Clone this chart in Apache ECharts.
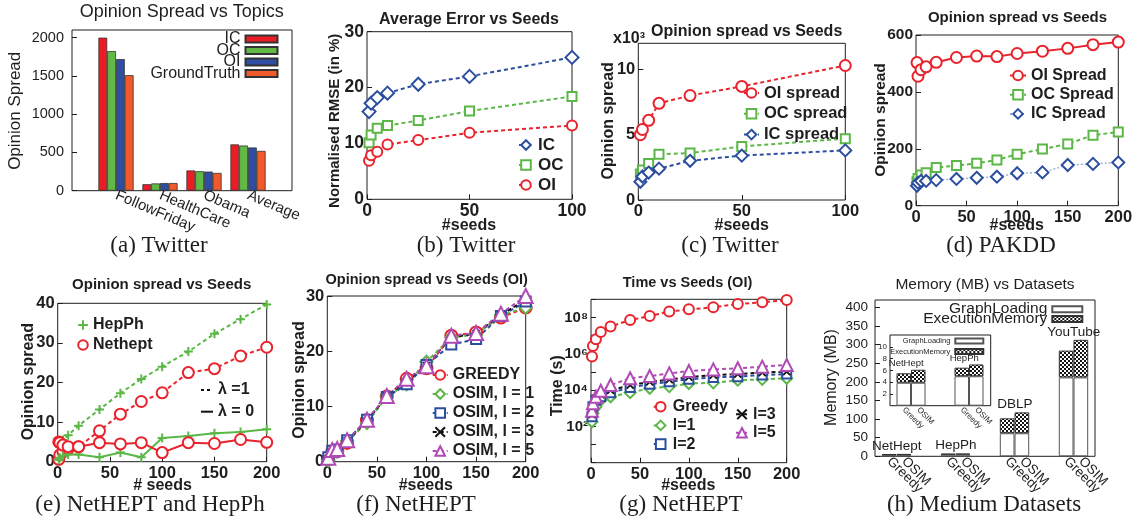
<!DOCTYPE html>
<html><head><meta charset="utf-8"><title>Opinion spread figures</title>
<script src="https://cdn.jsdelivr.net/npm/echarts@6.0.0/dist/echarts.min.js"></script>
<style>
html,body{margin:0;padding:0;background:#fff;width:1137px;height:528px;overflow:hidden;}
.layer{position:absolute;left:0;top:0;width:1137px;height:528px;}
</style></head><body>
<div id="pa" class="layer"></div><div id="pb" class="layer"></div><div id="pc" class="layer"></div><div id="pd" class="layer"></div>
<div id="pe" class="layer"></div><div id="pf" class="layer"></div><div id="pg" class="layer"></div><div id="ph" class="layer"></div>
<script>
// ================= DATA =================
// (a) Twitter: opinion spread vs topics
const catsA = ['FollowFriday', 'HealthCare', 'Obama', 'Average'];
const icA = [2000, 85, 265, 605];
const ocA = [1825, 95, 255, 590];
const oiA = [1720, 100, 250, 565];
const gtA = [1510, 100, 232, 520];
// (b) Twitter: normalised RMSE vs seeds
const seedsB = [1, 2, 5, 10, 25, 50, 100];
const icB = [15.7, 17.2, 18.2, 19.0, 20.6, 22.0, 25.4];
const ocB = [10.1, 11.5, 12.7, 13.2, 14.1, 15.8, 18.4];
const oiB = [6.9, 7.9, 8.5, 9.8, 10.6, 11.9, 13.2];
// (c) Twitter: opinion spread (x10^3) vs seeds
const seedsC = [1, 2, 5, 10, 25, 50, 100];
const oiC = [5.0, 5.4, 6.1, 7.4, 8.0, 8.7, 10.3];
const ocC = [2.0, 2.3, 2.8, 3.5, 3.6, 4.1, 4.7];
const icC = [1.4, 1.8, 2.1, 2.4, 3.0, 3.4, 3.8];
// (d) PAKDD
const seedsD = [1, 2, 5, 10, 20, 40, 60, 80, 100, 125, 150, 175, 200];
const oiD = [503, 455, 478, 488, 504, 521, 526, 524, 535, 543, 553, 566, 575];
const ocD = [84, 96, 108, 116, 134, 141, 149, 161, 181, 199, 217, 248, 259];
const icD = [70, 81, 87, 87, 90, 94, 98, 102, 114, 117, 143, 147, 152];
// (e) NetHEPT and HepPh
const seedsE = [1, 2, 5, 10, 20, 40, 60, 80, 100, 125, 150, 175, 200];
const hepphL1 = [1.3, 3.8, 5.5, 6.7, 9.1, 13.2, 17.3, 20.9, 24.0, 27.8, 32.3, 36.0, 39.7];
const netheptL1 = [0.6, 1.7, 2.5, 3.2, 3.8, 7.8, 12.0, 15.2, 17.4, 22.5, 23.5, 26.7, 28.9];
const hepphL0 = [0.5, 1.0, 1.5, 1.8, 1.8, 1.1, 2.3, 1.1, 6.0, 6.5, 7.2, 7.5, 8.2];
const netheptL0 = [5.0, 4.8, 4.2, 3.8, 3.8, 4.8, 4.5, 4.8, 2.3, 4.8, 4.6, 5.6, 4.9];
// (f) NetHEPT opinion spread (OI)
const seedsF = [1, 5, 10, 20, 40, 60, 80, 100, 125, 150, 175, 200];
const greedyF = [0.4, 1.8, 2.0, 3.4, 7.5, 11.8, 15.0, 16.9, 22.8, 23.4, 26.1, 27.9];
const osim1F = [0.2, 1.5, 1.8, 3.8, 7.0, 11.8, 14.0, 18.1, 22.5, 23.0, 26.5, 27.9];
const osim2F = [0.8, 2.0, 2.2, 3.9, 7.6, 11.7, 14.0, 17.5, 21.2, 22.2, 26.4, 29.0];
const osim3F = [0.6, 1.9, 2.2, 3.8, 7.4, 11.8, 14.7, 17.4, 22.5, 23.2, 26.6, 29.3];
const osim5F = [0.7, 2.1, 2.3, 3.9, 7.6, 11.9, 15.0, 17.3, 22.8, 23.3, 26.8, 30.0];
// (g) NetHEPT time (s)
const seedsG = [1, 2, 5, 10, 20, 40, 60, 80, 100, 125, 150, 175, 200];
const greedyG = [7e5, 2.7e6, 6.3e6, 1.6e7, 3.2e7, 7.2e7, 1.2e8, 2.1e8, 2.8e8, 3.6e8, 5.5e8, 6.8e8, 9.1e8];
const l1G = [180, 520, 1200, 2800, 4300, 7200, 12600, 15500, 23000, 25000, 35000, 39000, 45000];
const l2G = [340, 1200, 2800, 4300, 7100, 14000, 21000, 29000, 39000, 50000, 55000, 68000, 76000];
const l3G = [450, 1600, 3500, 5600, 9500, 19000, 28000, 38000, 52000, 66000, 76000, 91000, 105000];
const l5G = [720, 1900, 4300, 9100, 19000, 45000, 59000, 83000, 112000, 138000, 158000, 195000, 240000];
// (h) Memory (MB)
const catsH = ['NetHept', 'HepPh', 'DBLP', 'YouTube'];
const methodsH = ['Greedy', 'OSIM'];
const loadGreedyH = [3.9, 5.0, 62, 212];
const execGreedyH = [1.6, 1.45, 40, 72];
const loadOsimH = [3.9, 5.0, 62, 212];
const execOsimH = [2.2, 2.0, 56, 101];
const insetCount = 2; // inset zooms on NetHept and HepPh

// ================= HELPERS =================
const SANS = '"Liberation Sans", Arial, Helvetica, sans-serif';
const SERIF = '"Liberation Serif", "Times New Roman", Times, serif';
const INK = '#1e1e1e';
const COL = {red:'#e8232b', green:'#5bb746', blue:'#2c4ea0', lblue:'#8ea6da', mag:'#b04ab4', black:'#111111',
  barRed:'#ec1c24', barGreen:'#62b946', barBlue:'#2f4ea1', barOrange:'#f15a2b'};
const PLUS = 'path://M5,0L5,10M0,5L10,5';
const CROSS = 'path://M0,0L10,10M10,0L0,10';
const VERT = Math.PI / 2;
const FS = 16.5; // MATLAB tick label size

function init(id) { return echarts.init(document.getElementById(id), null, {width: 1137, height: 528}); }
function gridBox(l, t, r, b) {
  return {left: l, top: t, width: r - l, height: b - t, show: true, borderColor: INK, borderWidth: 1, backgroundColor: 'rgba(0,0,0,0)'};
}
function txt(x, y, text, size, opt) {
  opt = opt || {};
  return {type: 'text', x: x, y: y, rotation: opt.rot || 0, silent: true, z: 100,
    style: {text: text, fontSize: size, fontWeight: opt.weight || 'normal', fontFamily: opt.family || SANS,
      fill: INK, align: opt.align || 'center', verticalAlign: 'middle'}};
}
function caption(x, y, text) { return txt(x, y, text, 23, {family: SERIF}); }
function valAxis(min, max, interval, fs, opt) {
  opt = opt || {};
  return Object.assign({type: 'value', min: min, max: max, interval: interval,
    axisLine: {show: false},
    axisTick: {show: true, inside: true, length: opt.tickLen || 5, lineStyle: {color: INK, width: 1}},
    splitLine: {show: false},
    axisLabel: {color: INK, fontFamily: SANS, fontWeight: opt.weight || 'bold', fontSize: fs,
      margin: opt.margin != null ? opt.margin : 3,
      formatter: function (v) { return String(v); },
      showMaxLabel: opt.showMax !== undefined ? opt.showMax : true,
      showMinLabel: opt.showMin !== undefined ? opt.showMin : true}
  }, opt.extra || {});
}
function lineS(name, xs, ys, color, symbol, size, opt) {
  opt = opt || {};
  return {type: 'line', name: name, data: xs.map(function (x, i) { return [x, ys[i]]; }),
    symbol: symbol, symbolSize: size, showSymbol: true, clip: false, animation: false,
    color: opt.symColor || color,
    lineStyle: {color: opt.lineColor || color, width: opt.width || 2, type: opt.dash === undefined ? [4, 3] : opt.dash},
    itemStyle: {color: opt.symColor || color, borderColor: opt.symColor || color, borderWidth: opt.bw || 1.8},
    emphasis: {disabled: true}, z: opt.z || 2};
}
function legendM(names, left, top, fs, gap, opt) {
  opt = opt || {};
  return Object.assign({show: true, orient: 'vertical', left: left, top: top, padding: 0, itemGap: gap,
    itemWidth: opt.iw || 16, itemHeight: opt.ih || 12, data: names, selectedMode: false,
    textStyle: {color: INK, fontFamily: SANS, fontWeight: opt.weight || 'bold', fontSize: fs}}, opt.extra || {});
}
function hatch() {
  const c = document.createElement('canvas'); c.width = 4; c.height = 4;
  const g = c.getContext('2d');
  g.fillStyle = '#ffffff'; g.fillRect(0, 0, 4, 4);
  g.fillStyle = '#141414'; g.fillRect(0, 0, 2, 2); g.fillRect(2, 2, 2, 2);
  return {image: c, repeat: 'repeat'};
}
const HATCH = hatch();

// ================= (a) =================
function barA(name, vals, color) {
  return {type: 'bar', name: name, data: [null].concat(vals, [null]), barWidth: 8.8, barGap: '0%',
    itemStyle: {color: color, borderColor: '#333', borderWidth: 0.8}, emphasis: {disabled: true}};
}
init('pa').setOption({
  animation: false,
  grid: gridBox(72, 30, 292, 190.7),
  xAxis: {type: 'category', data: [''].concat(catsA, ['']), boundaryGap: false,
    axisLine: {show: false}, axisTick: {show: false}, splitLine: {show: false},
    axisLabel: {interval: 0, rotate: -23, color: INK, fontFamily: SANS, fontSize: 15, margin: 4}},
  yAxis: valAxis(0, 2100, 500, 14.5, {weight: 'normal', margin: 8, showMax: false}),
  legend: {orient: 'vertical', align: 'right', right: 1137 - 278.5, top: 31, padding: 0, itemGap: -4.5,
    itemWidth: 32, itemHeight: 7, icon: 'rect', selectedMode: false,
    data: ['IC', 'OC', 'OI', 'GroundTruth'],
    textStyle: {color: INK, fontFamily: SANS, fontSize: 16}},
  series: [barA('IC', icA, COL.barRed), barA('OC', ocA, COL.barGreen), barA('OI', oiA, COL.barBlue), barA('GroundTruth', gtA, COL.barOrange)],
  graphic: [
    txt(181.7, 12.5, 'Opinion Spread vs Topics', 18),
    txt(15, 110.8, 'Opinion Spread', 17, {rot: VERT}),
    caption(159, 246, '(a) Twitter')
  ]
});

// ================= (b) =================
init('pb').setOption({
  animation: false,
  grid: gridBox(367, 31.7, 572, 199.3),
  xAxis: valAxis(0, 100, 50, 17.5),
  yAxis: valAxis(0, 30, 10, 17.5),
  legend: legendM(['IC', 'OC', 'OI'], 518, 136.5, 17, 3, {iw: 14}),
  series: [
    lineS('IC', seedsB, icB, COL.blue, 'emptyDiamond', 13),
    lineS('OC', seedsB, ocB, COL.green, 'emptyRect', 9),
    lineS('OI', seedsB, oiB, COL.red, 'emptyCircle', 10)
  ],
  graphic: [
    txt(469, 20, 'Average Error vs Seeds', 16, {weight: 'bold'}),
    txt(335, 120.8, 'Normalised RMSE (in %)', 15, {weight: 'bold', rot: VERT}),
    txt(469, 226, '#seeds', 16, {weight: 'bold'}),
    caption(466, 246, '(b) Twitter')
  ]
});

// ================= (c) =================
init('pc').setOption({
  animation: false,
  grid: gridBox(638.3, 43.3, 845.3, 200),
  xAxis: valAxis(0, 100, 50, FS),
  yAxis: valAxis(0, 12, 5, FS, {showMax: false}),
  legend: legendM(['OI spread', 'OC spread', 'IC spread'], 743, 84.5, 16.5, 3.8, {iw: 15}),
  series: [
    lineS('OI spread', seedsC, oiC, COL.red, 'emptyCircle', 11),
    lineS('OC spread', seedsC, ocC, COL.green, 'emptyRect', 9),
    lineS('IC spread', seedsC, icC, COL.blue, 'emptyDiamond', 12)
  ],
  graphic: [
    txt(746.7, 31.7, 'Opinion spread vs Seeds', 16, {weight: 'bold'}),
    txt(629, 39, 'x10³', 16, {weight: 'bold'}),
    txt(608.3, 120.8, 'Opinion spread', 16, {weight: 'bold', rot: VERT}),
    txt(741.7, 226, '#seeds', 16, {weight: 'bold'}),
    caption(730, 246, '(c) Twitter')
  ]
});

// ================= (d) =================
init('pd').setOption({
  animation: false,
  grid: gridBox(916, 35, 1118.3, 205.7),
  xAxis: valAxis(0, 200, 50, FS),
  yAxis: valAxis(0, 600, 200, 15.5),
  legend: legendM(['OI Spread', 'OC Spread', 'IC Spread'], 1009, 67.5, 16, 3.2, {iw: 16}),
  series: [
    lineS('OI Spread', seedsD, oiD, COL.red, 'emptyCircle', 11, {dash: 'solid'}),
    lineS('OC Spread', seedsD, ocD, COL.green, 'emptyRect', 9),
    lineS('IC Spread', seedsD, icD, COL.blue, 'emptyDiamond', 12, {lineColor: COL.lblue, width: 1.3, dash: [2, 2]})
  ],
  graphic: [
    txt(1017.5, 18.3, 'Opinion spread vs Seeds', 15, {weight: 'bold'}),
    txt(881, 120, 'Opinion spread', 15.5, {weight: 'bold', rot: VERT}),
    txt(1016.7, 226, '#seeds', 16, {weight: 'bold'}),
    caption(1001, 246, '(d) PAKDD')
  ]
});

// ================= (e) =================
init('pe').setOption({
  animation: false,
  grid: gridBox(57.7, 303.3, 266.7, 461.7),
  xAxis: valAxis(0, 200, 50, FS),
  yAxis: valAxis(0, 40, 10, FS),
  legend: [
    legendM(['HepPh', 'Nethept'], 77, 317, 16, 4, {iw: 10, extra: {lineStyle: {opacity: 0}}}),
    legendM(['λ =1', 'λ = 0'], 200, 382, 16, 5.7, {iw: 12})
  ],
  series: [
    lineS('HepPh', seedsE, hepphL1, COL.green, PLUS, 9, {bw: 2}),
    lineS('Nethept', seedsE, netheptL1, COL.red, 'emptyCircle', 11),
    lineS('HepPh', seedsE, hepphL0, COL.green, PLUS, 9, {bw: 2, dash: 'solid'}),
    lineS('Nethept', seedsE, netheptL0, COL.red, 'emptyCircle', 11, {dash: 'solid'}),
    {type: 'line', name: 'λ =1', data: [], symbol: 'none', color: COL.black, lineStyle: {color: COL.black, width: 2.5, type: [3, 3]}, itemStyle: {opacity: 0}},
    {type: 'line', name: 'λ = 0', data: [], symbol: 'none', color: COL.black, lineStyle: {color: COL.black, width: 2.5, type: 'solid'}, itemStyle: {opacity: 0}}
  ],
  graphic: [
    txt(161.7, 285, 'Opinion spread vs Seeds', 15, {weight: 'bold'}),
    txt(28.3, 381.7, 'Opinion spread', 16, {weight: 'bold', rot: VERT}),
    txt(162.5, 486, '# seeds', 16, {weight: 'bold'}),
    caption(150, 505, '(e) NetHEPT and HepPh')
  ]
});

// ================= (f) =================
init('pf').setOption({
  animation: false,
  grid: gridBox(327.3, 296, 525.7, 461.7),
  xAxis: valAxis(0, 200, 50, FS),
  yAxis: valAxis(0, 30, 10, FS),
  legend: legendM(['GREEDY', 'OSIM, l = 1', 'OSIM, l = 2', 'OSIM, l = 3', 'OSIM, l = 5'], 431.7, 367, 16, 3, {iw: 15}),
  series: [
    lineS('GREEDY', seedsF, greedyF, COL.red, 'emptyCircle', 12),
    lineS('OSIM, l = 1', seedsF, osim1F, COL.green, 'emptyDiamond', 12),
    lineS('OSIM, l = 2', seedsF, osim2F, COL.blue, 'emptyRect', 10),
    lineS('OSIM, l = 3', seedsF, osim3F, COL.black, CROSS, 7, {bw: 1.8}),
    lineS('OSIM, l = 5', seedsF, osim5F, COL.mag, 'emptyTriangle', 14)
  ],
  graphic: [
    txt(426.7, 280, 'Opinion spread vs Seeds (OI)', 14.5, {weight: 'bold'}),
    txt(300, 380, 'Opinion spread', 16, {weight: 'bold', rot: VERT}),
    txt(425.8, 486, '#seeds', 16, {weight: 'bold'}),
    caption(416, 505, '(f) NetHEPT')
  ]
});

// ================= (g) =================
const SUP = {'0': '⁰', '1': '¹', '2': '²', '3': '³', '4': '⁴', '5': '⁵', '6': '⁶', '7': '⁷', '8': '⁸', '9': '⁹'};
const shownExp = [2, 4, 6, 8];
init('pg').setOption({
  animation: false,
  grid: gridBox(591, 299.3, 786.7, 462.7),
  xAxis: valAxis(0, 200, 50, FS),
  yAxis: {type: 'log', logBase: 10, min: 1, max: 1e9,
    axisLine: {show: false}, splitLine: {show: false}, minorTick: {show: false},
    axisTick: {show: true, inside: true, length: 5, lineStyle: {color: INK, width: 1}},
    axisLabel: {show: true, color: INK, fontFamily: SANS, fontWeight: 'bold', fontSize: 15, margin: 3,
      showMinLabel: true, showMaxLabel: true,
      formatter: function (v) {
        const e = Math.round(Math.log10(Number(v)));
        if (shownExp.indexOf(e) < 0) { return ''; }
        return '10' + String(e).split('').map(function (d) { return SUP[d]; }).join('');
      }}},
  legend: [
    legendM(['Greedy', 'l=1', 'l=2'], 652.7, 398.7, 16, 2.7, {iw: 14}),
    legendM(['l=3', 'l=5'], 735, 406.3, 16, 2.4, {iw: 12})
  ],
  series: [
    lineS('Greedy', seedsG, greedyG, COL.red, 'emptyCircle', 10),
    lineS('l=1', seedsG, l1G, COL.green, 'emptyDiamond', 11),
    lineS('l=2', seedsG, l2G, COL.blue, 'emptyRect', 9),
    lineS('l=3', seedsG, l3G, COL.black, CROSS, 7, {bw: 1.8}),
    lineS('l=5', seedsG, l5G, COL.mag, 'emptyTriangle', 12)
  ],
  graphic: [
    txt(687.5, 283.3, 'Time vs Seeds (OI)', 14.5, {weight: 'bold'}),
    txt(557.5, 385.8, 'Time (s)', 16, {weight: 'bold', rot: VERT}),
    txt(688.3, 486, '#seeds', 16, {weight: 'bold'}),
    caption(681, 505, '(g) NetHEPT')
  ]
});

// ================= (h) =================
// grid 0: main frame + y labels; grid 1: main bars (category bands of ~59px);
// grid 2: inset frame + y labels; grid 3: inset bars.
function memBars(axisIdx, n, bw, fsTick, fsGroup, groupOffset) {
  const vals = function (arr) { return arr.slice(0, n); };
  const whiteStyle = {color: '#ffffff', borderColor: '#555', borderWidth: 1};
  const hatchStyle = {color: HATCH, borderColor: '#333', borderWidth: 1};
  const tickLabel = function (t) {
    return {show: true, position: 'bottom', distance: 3, rotate: -45, align: 'left', verticalAlign: 'middle',
      formatter: t, color: INK, fontFamily: SANS, fontSize: fsTick};
  };
  const base = {type: 'bar', xAxisIndex: axisIdx, yAxisIndex: axisIdx, barWidth: bw, barGap: '0%', emphasis: {disabled: true}, z: 5};
  return [
    Object.assign({}, base, {name: 'GraphLoading', stack: 'g' + axisIdx, data: vals(loadGreedyH), itemStyle: whiteStyle, label: tickLabel(methodsH[0])}),
    Object.assign({}, base, {name: 'ExecutionMemory', stack: 'g' + axisIdx, data: vals(execGreedyH), itemStyle: hatchStyle}),
    Object.assign({}, base, {name: 'GraphLoading', stack: 'o' + axisIdx, data: vals(loadOsimH), itemStyle: whiteStyle, label: tickLabel(methodsH[1])}),
    Object.assign({}, base, {name: 'ExecutionMemory', stack: 'o' + axisIdx, data: vals(execOsimH), itemStyle: hatchStyle,
      label: {show: true, position: 'top', distance: 1, offset: [groupOffset, 0], color: INK, fontFamily: SANS, fontSize: fsGroup,
        formatter: function (p) { return catsH[p.dataIndex]; }}})
  ];
}
const hiddenAxis = function (extra) {
  return Object.assign({axisLine: {show: false}, axisTick: {show: false}, axisLabel: {show: false}, splitLine: {show: false}}, extra);
};
function noGrid(l, t, w, h) { return {left: l, top: t, width: w, height: h, show: false}; }
init('ph').setOption({
  animation: false,
  grid: [
    gridBox(875, 300, 1095, 456.3),
    noGrid(867, 300, 236, 156.3),
    gridBox(890, 335, 990.7, 405.7),
    noGrid(882, 335, 116, 70.7)
  ],
  xAxis: [
    hiddenAxis({type: 'value', gridIndex: 0, min: 0, max: 1}),
    hiddenAxis({type: 'category', gridIndex: 1, data: catsH}),
    hiddenAxis({type: 'value', gridIndex: 2, min: 0, max: 1}),
    hiddenAxis({type: 'category', gridIndex: 3, data: catsH.slice(0, insetCount)})
  ],
  yAxis: [
    Object.assign(valAxis(0, 420, 50, 13.5, {weight: 'normal', margin: 7, showMax: false}), {gridIndex: 0}),
    hiddenAxis({type: 'value', gridIndex: 1, min: 0, max: 420}),
    Object.assign(valAxis(0, 12, 2, 8, {weight: 'normal', margin: 3, showMax: false, showMin: false, tickLen: 3}), {gridIndex: 2}),
    hiddenAxis({type: 'value', gridIndex: 3, min: 0, max: 12})
  ],
  legend: [
    {orient: 'vertical', align: 'right', right: 1137 - 1083.3, top: 301.2, padding: 0, itemGap: -6.2,
      itemWidth: 30, itemHeight: 6, icon: 'rect', selectedMode: false, data: ['GraphLoading', 'ExecutionMemory'],
      textStyle: {color: INK, fontFamily: SANS, fontSize: 15.5}},
    {orient: 'vertical', align: 'right', right: 1137 - 984.3, top: 337, padding: 0, itemGap: 2.5,
      itemWidth: 28, itemHeight: 5, icon: 'rect', selectedMode: false, data: ['GraphLoading', 'ExecutionMemory'],
      textStyle: {color: INK, fontFamily: SANS, fontSize: 7.5}}
  ],
  series: memBars(1, catsH.length, 14.7, 13.5, 13.5, -7).concat(memBars(3, insetCount, 14.5, 8, 9.5, -12)),
  graphic: [
    txt(985, 285, 'Memory (MB) vs Datasets', 15.5),
    txt(831.7, 377.5, 'Memory (MB)', 16, {rot: VERT}),
    caption(984, 505, '(h) Medium Datasets')
  ]
});
</script>
</body></html>
